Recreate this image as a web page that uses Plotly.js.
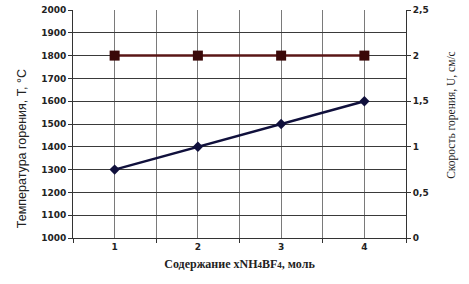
<!DOCTYPE html>
<html><head><meta charset="utf-8">
<script src="https://cdn.plot.ly/plotly-3.0.1.min.js"></script>
<style>html,body{margin:0;padding:0;background:#fff}#c{width:469px;height:284px}</style>
</head><body><div id="c"></div>
<script>
const categories = [1, 2, 3, 4];
const temperature = [1300, 1400, 1500, 1600];
const burnRate = [2, 2, 2, 2];
const leftTicks = [1000, 1100, 1200, 1300, 1400, 1500, 1600, 1700, 1800, 1900, 2000];
const rightTicks = [0, 0.5, 1, 1.5, 2, 2.5];
const rightTickText = ["0", "0,5", "1", "1,5", "2", "2,5"];
const leftTitle = "Температура горения, Т, °С";
const rightTitle = "Скорость горения, U, см/с";

const tickFont = {family: "DejaVu Sans", size: 9, color: "#222", weight: "bold"};
const data = [
  {x: categories, y: temperature, type: "scatter", mode: "lines+markers", yaxis: "y",
   line: {color: "#10103c", width: 2.5}, marker: {symbol: "diamond", size: 8, color: "#10103c"}},
  {x: categories, y: burnRate, type: "scatter", mode: "lines+markers", yaxis: "y2",
   line: {color: "#5a1616", width: 2.5}, marker: {symbol: "square", size: 10, color: "#3a0808"}}
];
const layout = {
  width: 469, height: 284, showlegend: false,
  paper_bgcolor: "#fff", plot_bgcolor: "#fff",
  margin: {l: 73, r: 63, t: 10, b: 46},
  xaxis: {range: [0.5, 4.5], tickvals: categories, ticktext: categories.map(String),
    showgrid: true, gridcolor: "#7a7a7a", gridwidth: 1, ticks: "", tickfont: tickFont,
    showline: true, linecolor: "#333", linewidth: 1, zeroline: false,
    minor: {tick0: 0.5, dtick: 1, showgrid: true, gridcolor: "#7a7a7a", gridwidth: 1, ticks: "outside", ticklen: 4, tickcolor: "#333"},
    title: {text: "Содержание xNH<span style=\"font-size:9px\">4</span>BF<span style=\"font-size:9px\">4</span>, моль", font: {family: "Liberation Serif", size: 12, color: "#222", weight: "bold"}, standoff: 8}},
  yaxis: {range: [1000, 2000], tickvals: leftTicks, ticktext: leftTicks.map(String),
    showgrid: true, gridcolor: "#3a3a3a", gridwidth: 1, ticks: "outside", ticklen: 4, tickcolor: "#333",
    tickfont: tickFont, showline: true, linecolor: "#333", zeroline: false},
  yaxis2: {range: [0, 2.5], overlaying: "y", side: "right", tickvals: rightTicks, ticktext: rightTickText,
    showgrid: false, ticks: "outside", ticklen: 4, tickcolor: "#333", tickfont: tickFont,
    showline: true, linecolor: "#333", zeroline: false},
  annotations: [
    {text: leftTitle, xref: "paper", yref: "paper", x: -(73 - 22) / 334, y: (238 - 149) / 228,
     xanchor: "center", yanchor: "middle", textangle: -90, showarrow: false,
     font: {family: "Liberation Sans", size: 12.5, color: "#222"}},
    {text: rightTitle, xref: "paper", yref: "paper", x: 1 + (452 - 407) / 334, y: (238 - 115) / 228,
     xanchor: "center", yanchor: "middle", textangle: -90, showarrow: false,
     font: {family: "Liberation Serif", size: 11.5, color: "#222"}}
  ]
};
Plotly.newPlot("c", data, layout, {displayModeBar: false, staticPlot: true});
</script></body></html>
